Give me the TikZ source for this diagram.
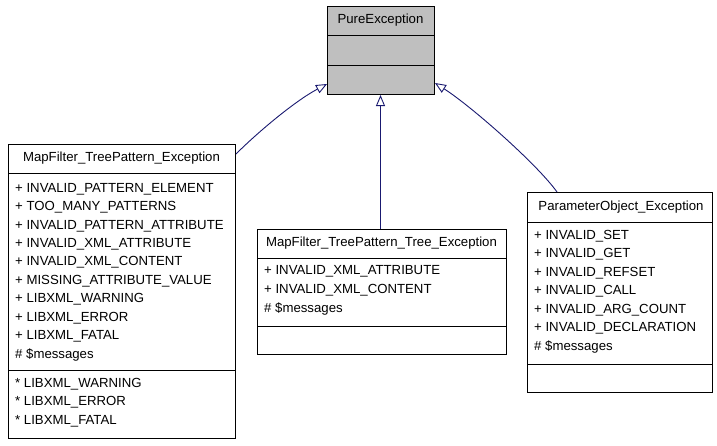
\documentclass[tikz,border=0pt]{standalone}
\usepackage{fontspec}
\setmainfont{Liberation Sans}
\usetikzlibrary{arrows.meta}
\definecolor{edgeblue}{HTML}{191970}
\definecolor{boxgray}{HTML}{BFBFBF}
\begin{document}
\begin{tikzpicture}[x=1pt,y=-1pt,
  classbox/.style={draw=black, line width=1pt, fill=white, inner sep=0pt, anchor=north west},
  divider/.style={draw=black, line width=1pt},
  member/.style={anchor=west, inner sep=0pt, font=\fontsize{13.2}{15}\selectfont},
  ctitle/.style={anchor=center, inner sep=0pt, font=\fontsize{13.2}{15}\selectfont},
  inh/.style={draw=edgeblue, line width=0.9pt, -{Triangle[open,length=11pt,width=9pt,fill=white]}}]
\useasboundingbox (0,0) rectangle (717,445);

% PureException
\node[classbox, fill=boxgray, minimum width=107pt, minimum height=88pt] (pe) at (327,6) {};
\draw[divider] (327,35) -- (434,35);
\draw[divider] (327,65) -- (434,65);
\node[ctitle] (pet) at (380.5,20) {PureException};

% MapFilter_TreePattern_Exception
\node[classbox, minimum width=227pt, minimum height=294pt] (mf) at (8,144) {};
\draw[divider] (8,173) -- (235,173);
\draw[divider] (8,370) -- (235,370);
\node[ctitle] (mft) at (121.5,158.5) {MapFilter\_TreePattern\_Exception};
\node[member] (mf1) at (15,189) {+ INVALID\_PATTERN\_ELEMENT};
\node[member] (mf2) at (15,207.4) {+ TOO\_MANY\_PATTERNS};
\node[member] (mf3) at (15,225.8) {+ INVALID\_PATTERN\_ATTRIBUTE};
\node[member] (mf4) at (15,244.2) {+ INVALID\_XML\_ATTRIBUTE};
\node[member] (mf5) at (15,262.6) {+ INVALID\_XML\_CONTENT};
\node[member] (mf6) at (15,281) {+ MISSING\_ATTRIBUTE\_VALUE};
\node[member] (mf7) at (15,299.4) {+ LIBXML\_WARNING};
\node[member] (mf8) at (15,317.8) {+ LIBXML\_ERROR};
\node[member] (mf9) at (15,336.2) {+ LIBXML\_FATAL};
\node[member] (mf10) at (15,354.6) {\# \$messages};
\node[member] (mf11) at (15,384) {* LIBXML\_WARNING};
\node[member] (mf12) at (15,402.4) {* LIBXML\_ERROR};
\node[member] (mf13) at (15,420.8) {* LIBXML\_FATAL};

% MapFilter_TreePattern_Tree_Exception
\node[classbox, minimum width=249pt, minimum height=125pt] (mt) at (257,229) {};
\draw[divider] (257,258) -- (506,258);
\draw[divider] (257,326) -- (506,326);
\node[ctitle] (mtt) at (381.5,243.5) {MapFilter\_TreePattern\_Tree\_Exception};
\node[member] (mt1) at (264,271.5) {+ INVALID\_XML\_ATTRIBUTE};
\node[member] (mt2) at (264,290) {+ INVALID\_XML\_CONTENT};
\node[member] (mt3) at (264,308.5) {\# \$messages};

% ParameterObject_Exception
\node[classbox, minimum width=185pt, minimum height=200pt] (po) at (527,192) {};
\draw[divider] (527,222) -- (712,222);
\draw[divider] (527,364) -- (712,364);
\node[ctitle] (pot) at (621,207) {ParameterObject\_Exception};
\node[member] (po1) at (534,236) {+ INVALID\_SET};
\node[member] (po2) at (534,254.5) {+ INVALID\_GET};
\node[member] (po3) at (534,273) {+ INVALID\_REFSET};
\node[member] (po4) at (534,291.5) {+ INVALID\_CALL};
\node[member] (po5) at (534,310) {+ INVALID\_ARG\_COUNT};
\node[member] (po6) at (534,328.5) {+ INVALID\_DECLARATION};
\node[member] (po7) at (534,347) {\# \$messages};

% inheritance edges
\draw[inh] ([yshift=-10pt]mf.north east) .. controls +(22,-22) and +(-32,17) .. ([yshift=11pt]pe.south west);
\draw[inh] (mt.north -| pet) -- (pe.south -| pet);
\draw[inh] ([xshift=30pt]po.north west) .. controls +(-20,-28) and +(36,23) .. ([yshift=12pt]pe.south east);
\end{tikzpicture}
\end{document}
